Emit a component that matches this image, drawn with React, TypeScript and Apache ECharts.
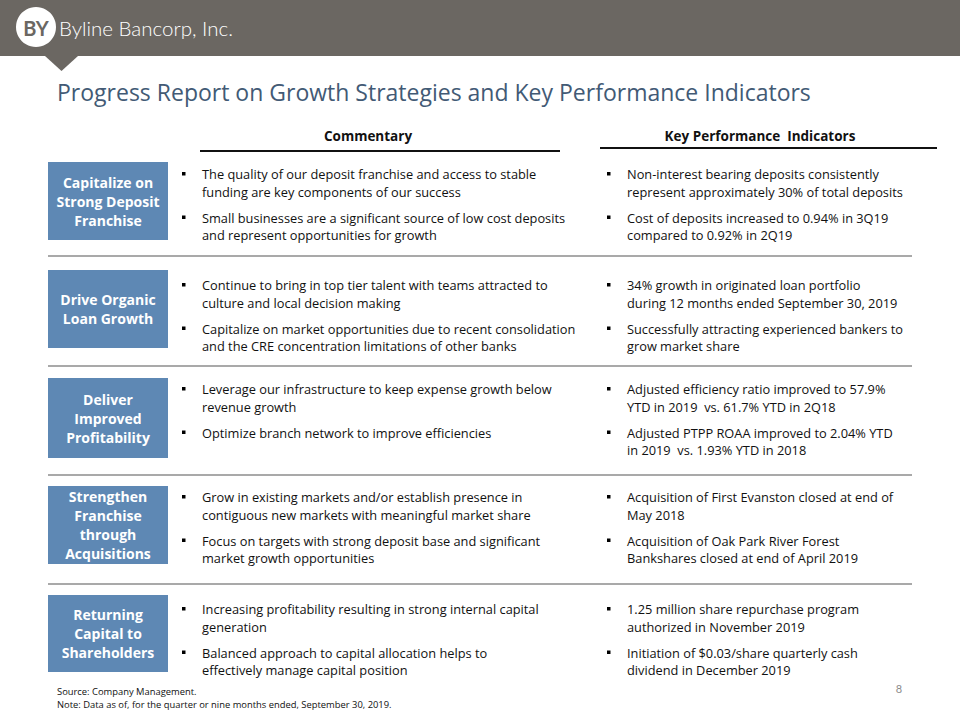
import React, { useEffect, useRef } from "react";
import * as echarts from "echarts";

const companyName = "Byline Bancorp, Inc.";
const logoMark = "BY";
const slideTitle = "Progress Report on Growth Strategies and Key Performance Indicators";
const columnHeaders = ["Commentary", "Key Performance  Indicators"];

const strategies = [
  "Capitalize on\nStrong Deposit\nFranchise",
  "Drive Organic\nLoan Growth",
  "Deliver\nImproved\nProfitability",
  "Strengthen\nFranchise\nthrough\nAcquisitions",
  "Returning\nCapital to\nShareholders",
];

const commentary = [
  [
    "The quality of our deposit franchise and access to stable\nfunding are key components of our success",
    "Small businesses are a significant source of low cost deposits\nand represent opportunities for growth",
  ],
  [
    "Continue to bring in top tier talent with teams attracted to\nculture and local decision making",
    "Capitalize on market opportunities due to recent consolidation\nand the CRE concentration limitations of other banks",
  ],
  [
    "Leverage our infrastructure to keep expense growth below\nrevenue growth",
    "Optimize branch network to improve efficiencies",
  ],
  [
    "Grow in existing markets and/or establish presence in\ncontiguous new markets with meaningful market share",
    "Focus on targets with strong deposit base and significant\nmarket growth opportunities",
  ],
  [
    "Increasing profitability resulting in strong internal capital\ngeneration",
    "Balanced approach to capital allocation helps to\neffectively manage capital position",
  ],
];

const kpis = [
  [
    "Non-interest bearing deposits consistently\nrepresent approximately 30% of total deposits",
    "Cost of deposits increased to 0.94% in 3Q19\ncompared to 0.92% in 2Q19",
  ],
  [
    "34% growth in originated loan portfolio\nduring 12 months ended September 30, 2019",
    "Successfully attracting experienced bankers to\ngrow market share",
  ],
  [
    "Adjusted efficiency ratio improved to 57.9%\nYTD in 2019  vs. 61.7% YTD in 2Q18",
    "Adjusted PTPP ROAA improved to 2.04% YTD\nin 2019  vs. 1.93% YTD in 2018",
  ],
  [
    "Acquisition of First Evanston closed at end of\nMay 2018",
    "Acquisition of Oak Park River Forest\nBankshares closed at end of April 2019",
  ],
  [
    "1.25 million share repurchase program\nauthorized in November 2019",
    "Initiation of $0.03/share quarterly cash\ndividend in December 2019",
  ],
];

const footnotes = [
  "Source: Company Management.",
  "Note: Data as of, for the quarter or nine months ended, September 30, 2019.",
];
const pageNumber = "8";

// layout
const ROW_BOX_TOP = [162, 270, 378, 486, 595];
const ROW_BOX_H = [78, 78, 80, 78, 77];
const ROW_TEXT_Y = [174, 285, 389, 497, 609];
const SEP_Y = [256, 366, 475, 584];

const LATO = "Lato, 'Open Sans', sans-serif";
const OPEN = "'Open Sans', Lato, sans-serif";
const BOX_COLOR = "#5e88b4";
const HEADER_COLOR = "#6b6762";
const TITLE_COLOR = "#425a75";

function bulletBlock(items: string[], bx: number, tx: number, y0: number): any[] {
  const els: any[] = [];
  let y = y0;
  items.forEach((item) => {
    const lines = item.split("\n");
    els.push({
      type: "rect",
      shape: { x: bx, y: y - 2, width: 3.5, height: 3.5 },
      style: { fill: "#000" },
    });
    lines.forEach((ln) => {
      els.push({
        type: "text",
        x: tx,
        y,
        style: {
          text: ln,
          font: `12.8px ${OPEN}`,
          fill: "#111",
          textAlign: "left",
          textVerticalAlign: "middle",
        },
      });
      y += 17.5;
    });
    y += 8.5;
  });
  return els;
}

export default function App() {
  const ref = useRef<HTMLDivElement>(null);
  useEffect(() => {
    if (!ref.current) return;
    const chart = echarts.init(ref.current, undefined, { renderer: "svg" });
    const els: any[] = [];

    // header bar
    els.push({ type: "rect", shape: { x: 0, y: 0, width: 960, height: 56 }, style: { fill: HEADER_COLOR } });
    els.push({
      type: "polygon",
      shape: { points: [[45, 56], [78, 56], [61.5, 71]] },
      style: { fill: HEADER_COLOR },
    });
    els.push({ type: "circle", shape: { cx: 36, cy: 27, r: 20 }, style: { fill: "#fff" } });
    els.push({
      type: "text",
      x: 36,
      y: 28,
      style: {
        text: logoMark,
        font: `bold 20px 'Liberation Sans Narrow', ${LATO}`,
        fill: HEADER_COLOR,
        textAlign: "center",
        textVerticalAlign: "middle",
      },
    });
    els.push({
      type: "text",
      x: 59,
      y: 28,
      style: {
        text: companyName,
        font: `300 20.5px ${LATO}`,
        fill: "#fff",
        textAlign: "left",
        textVerticalAlign: "middle",
      },
    });

    // title
    els.push({
      type: "text",
      x: 57,
      y: 92,
      style: {
        text: slideTitle,
        font: `23px ${OPEN}`,
        fill: TITLE_COLOR,
        textAlign: "left",
        textVerticalAlign: "middle",
      },
    });

    // column headers
    els.push({
      type: "text",
      x: 368,
      y: 136,
      style: { text: columnHeaders[0], font: `bold 13.5px ${OPEN}`, fill: "#111", textAlign: "center", textVerticalAlign: "middle" },
    });
    els.push({ type: "line", shape: { x1: 200, y1: 151, x2: 560, y2: 151 }, style: { stroke: "#111", lineWidth: 2 } });
    els.push({
      type: "text",
      x: 760,
      y: 136,
      style: { text: columnHeaders[1], font: `bold 13.5px ${OPEN}`, fill: "#111", textAlign: "center", textVerticalAlign: "middle" },
    });
    els.push({ type: "line", shape: { x1: 600, y1: 148, x2: 937, y2: 148 }, style: { stroke: "#111", lineWidth: 2 } });

    // separators
    SEP_Y.forEach((y) => {
      els.push({ type: "line", shape: { x1: 48, y1: y, x2: 912, y2: y }, style: { stroke: "#8c8c8c", lineWidth: 1.5 } });
    });

    // rows
    strategies.forEach((s, i) => {
      const top = ROW_BOX_TOP[i];
      const h = ROW_BOX_H[i];
      els.push({ type: "rect", shape: { x: 48, y: top, width: 120, height: h }, style: { fill: BOX_COLOR } });
      const lines = s.split("\n");
      const cy = top + h / 2;
      const lh = 19;
      lines.forEach((ln, k) => {
        els.push({
          type: "text",
          x: 108,
          y: cy + (k - (lines.length - 1) / 2) * lh,
          style: {
            text: ln,
            font: `bold 14px ${OPEN}`,
            fill: "#fff",
            textAlign: "center",
            textVerticalAlign: "middle",
          },
        });
      });
      els.push(...bulletBlock(commentary[i], 182, 202, ROW_TEXT_Y[i]));
      els.push(...bulletBlock(kpis[i], 607, 627, ROW_TEXT_Y[i]));
    });

    // footnotes
    footnotes.forEach((f, k) => {
      els.push({
        type: "text",
        x: 57,
        y: 691 + k * 13,
        style: { text: f, font: `9.4px ${OPEN}`, fill: "#111", textAlign: "left", textVerticalAlign: "middle" },
      });
    });
    els.push({
      type: "text",
      x: 899,
      y: 688,
      style: { text: pageNumber, font: `11px ${LATO}`, fill: "#8c8c8c", textAlign: "center", textVerticalAlign: "middle" },
    });

    chart.setOption({ animation: false, graphic: { elements: els } });
    return () => chart.dispose();
  }, []);
  return (
    <div
      ref={ref}
      style={{ position: "fixed", left: 0, top: 0, width: 960, height: 720, background: "#fff" }}
    />
  );
}
